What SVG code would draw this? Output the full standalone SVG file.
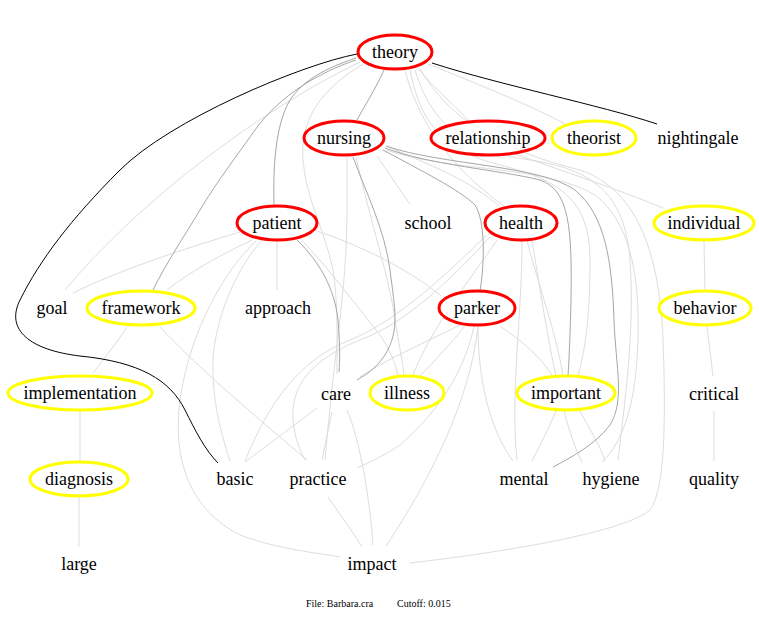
<svg xmlns="http://www.w3.org/2000/svg" width="759" height="617" viewBox="0 0 759 617">
<style>
text{font-family:"Liberation Serif","Times New Roman",serif;font-size:18px;fill:#000;text-anchor:middle}
.ft{font-size:10px;text-anchor:start}
.e path{fill:none;stroke-width:1}
.l{stroke:#dddddd}
.m{stroke:#a6a6a6}
.k{stroke:#000}
.r{fill:#fff;stroke:#ff0000;stroke-width:3}
.y{fill:#fff;stroke:#ffff00;stroke-width:3}
</style>
<rect width="759" height="617" fill="#fff"/>
<g id="connectors" class="e">
<path class="l" d="M360,62 C260,110 140,200 65,290"/>
<path class="l" d="M418,68 C435,90 455,105 470,122"/>
<path class="l" d="M428,64 C480,85 530,105 565,124"/>
<path class="l" d="M363,64 C320,90 300,120 303,160 C306,200 325,230 333,270 C338,300 337,340 337,374"/>
<path class="l" d="M405,70 C415,110 440,160 505,207"/>
<path class="l" d="M410,70 C420,120 440,150 500,165 C560,180 590,200 590,260 C590,320 585,350 578,376"/>
<path class="l" d="M415,70 C430,120 460,150 530,160 C600,170 625,200 630,260 C635,330 625,400 618,460"/>
<path class="l" d="M420,69 C450,120 500,150 580,170 C640,190 660,260 663,340 C666,420 665,490 650,510 C620,535 480,555 410,563"/>
<path class="l" d="M377,156 C390,175 400,190 410,204"/>
<path class="l" d="M347,157 C347,200 348,240 343,290 C338,340 330,400 325,460"/>
<path class="l" d="M356,157 C370,220 390,280 395,320 C400,350 403,365 404,375"/>
<path class="l" d="M386,146 C430,165 470,180 500,207"/>
<path class="l" d="M386,150 C450,172 545,165 595,195 C628,220 640,270 638,340 C636,400 625,440 602,462"/>
<path class="l" d="M515,154 C560,170 620,190 663,208"/>
<path class="l" d="M240,232 C180,250 120,270 73,293"/>
<path class="l" d="M252,240 C220,255 190,272 167,290"/>
<path class="l" d="M277,241 L277,290"/>
<path class="l" d="M262,240 C235,270 215,320 213,360 C212,400 220,430 230,461"/>
<path class="l" d="M256,241 C225,270 190,330 180,400 C172,460 190,510 240,535 C280,550 320,553 340,557"/>
<path class="l" d="M314,230 C360,245 410,270 441,296"/>
<path class="l" d="M300,238 C330,270 360,310 380,335 C390,350 395,362 398,375"/>
<path class="l" d="M160,327 C200,370 260,420 307,460"/>
<path class="l" d="M127,327 C115,345 103,360 93,373"/>
<path class="l" d="M80,411 L80,461"/>
<path class="l" d="M79,497 L79,547"/>
<path class="l" d="M704,241 L705,290"/>
<path class="l" d="M707,326 L713,376"/>
<path class="l" d="M714,411 L714,461"/>
<path class="l" d="M317,408 L245,462"/>
<path class="l" d="M332,412 L322,460"/>
<path class="l" d="M347,410 C360,440 370,500 373,545"/>
<path class="l" d="M328,497 C340,515 352,530 362,547"/>
<path class="l" d="M460,325 C420,345 385,360 360,377"/>
<path class="l" d="M465,326 C450,345 435,360 420,376"/>
<path class="l" d="M474,326 C465,370 440,410 400,445 C385,455 370,462 357,468"/>
<path class="l" d="M478,327 C470,400 430,480 386,546"/>
<path class="l" d="M478,327 C478,380 490,430 513,461"/>
<path class="l" d="M500,326 C520,340 540,355 553,377"/>
<path class="l" d="M497,240 C470,280 430,330 413,375"/>
<path class="l" d="M487,235 C450,270 400,320 350,340 C300,360 270,400 245,461"/>
<path class="l" d="M490,237 C455,275 410,320 365,338 C320,355 290,380 293,420 C295,440 300,450 305,460"/>
<path class="l" d="M527,241 C540,290 555,330 563,375"/>
<path class="l" d="M522,241 C522,320 510,390 517,460"/>
<path class="l" d="M532,240 C545,320 560,420 582,462"/>
<path class="l" d="M556,411 C548,430 540,445 532,461"/>
<path class="l" d="M580,411 C590,430 600,445 605,461"/>
<path class="m" d="M384,70 C375,90 365,105 357,120"/>
<path class="m" d="M356,58 C320,70 295,85 285,110 C275,135 273,170 274,205"/>
<path class="m" d="M356,60 C320,72 280,95 255,130 C230,165 215,185 200,210 C185,235 165,265 153,290"/>
<path class="m" d="M353,157 C365,190 385,230 390,270 C395,310 400,330 385,355 C375,370 365,375 357,380"/>
<path class="m" d="M297,240 C320,262 335,290 338,320 C340,345 340,360 339,372"/>
<path class="m" d="M383,150 C420,170 460,190 475,205 C485,220 485,260 480,291"/>
<path class="m" d="M385,148 C430,165 500,170 540,180 C570,190 572,230 571,300 C570,340 569,360 568,376"/>
<path class="m" d="M386,146 C440,165 540,165 575,190 C605,215 612,260 614,320 C616,370 625,400 610,425 C595,445 570,458 553,467"/>
<path class="k" d="M357,54 C300,65 170,120 120,170 C70,220 40,260 20,300 C5,330 30,350 80,356 C140,362 170,380 185,410 C195,430 205,450 218,463"/>
<path class="k" d="M432,63 C500,85 600,105 657,124"/>
</g>
<g id="theory"><ellipse class="r" cx="395" cy="52" rx="37" ry="17"/><text x="395" y="58">theory</text></g>
<g id="nursing"><ellipse class="r" cx="344" cy="138" rx="40" ry="17"/><text x="344" y="144">nursing</text></g>
<g id="relationship"><ellipse class="r" cx="488" cy="138" rx="57" ry="17"/><text x="488" y="144">relationship</text></g>
<g id="theorist"><ellipse class="y" cx="594" cy="138" rx="42" ry="17"/><text x="594" y="144">theorist</text></g>
<g id="nightingale"><text x="698" y="144">nightingale</text></g>
<g id="patient"><ellipse class="r" cx="277" cy="223" rx="40" ry="17"/><text x="277" y="229">patient</text></g>
<g id="school"><text x="428" y="229">school</text></g>
<g id="health"><ellipse class="r" cx="521" cy="223" rx="36" ry="17"/><text x="521" y="229">health</text></g>
<g id="individual"><ellipse class="y" cx="704" cy="223" rx="50" ry="17"/><text x="704" y="229">individual</text></g>
<g id="goal"><text x="52" y="314">goal</text></g>
<g id="framework"><ellipse class="y" cx="141" cy="308" rx="54" ry="17"/><text x="141" y="314">framework</text></g>
<g id="approach"><text x="278" y="314">approach</text></g>
<g id="parker"><ellipse class="r" cx="477" cy="308" rx="38" ry="17"/><text x="477" y="314">parker</text></g>
<g id="behavior"><ellipse class="y" cx="705" cy="308" rx="46" ry="17"/><text x="705" y="314">behavior</text></g>
<g id="implementation"><ellipse class="y" cx="80" cy="393" rx="72" ry="17"/><text x="80" y="399">implementation</text></g>
<g id="care"><text x="336" y="400">care</text></g>
<g id="illness"><ellipse class="y" cx="407" cy="393" rx="37" ry="17"/><text x="407" y="399">illness</text></g>
<g id="important"><ellipse class="y" cx="566" cy="393" rx="49" ry="17"/><text x="566" y="399">important</text></g>
<g id="critical"><text x="714" y="400">critical</text></g>
<g id="diagnosis"><ellipse class="y" cx="79" cy="479" rx="49" ry="17"/><text x="79" y="485">diagnosis</text></g>
<g id="basic"><text x="235" y="485">basic</text></g>
<g id="practice"><text x="318" y="485">practice</text></g>
<g id="mental"><text x="524" y="485">mental</text></g>
<g id="hygiene"><text x="611" y="485">hygiene</text></g>
<g id="quality"><text x="714" y="485">quality</text></g>
<g id="large"><text x="79" y="570">large</text></g>
<g id="impact"><text x="372" y="570">impact</text></g>
<text class="ft" x="306" y="607">File: Barbara.cra</text>
<text class="ft" x="397" y="607">Cutoff: 0.015</text>
</svg>
